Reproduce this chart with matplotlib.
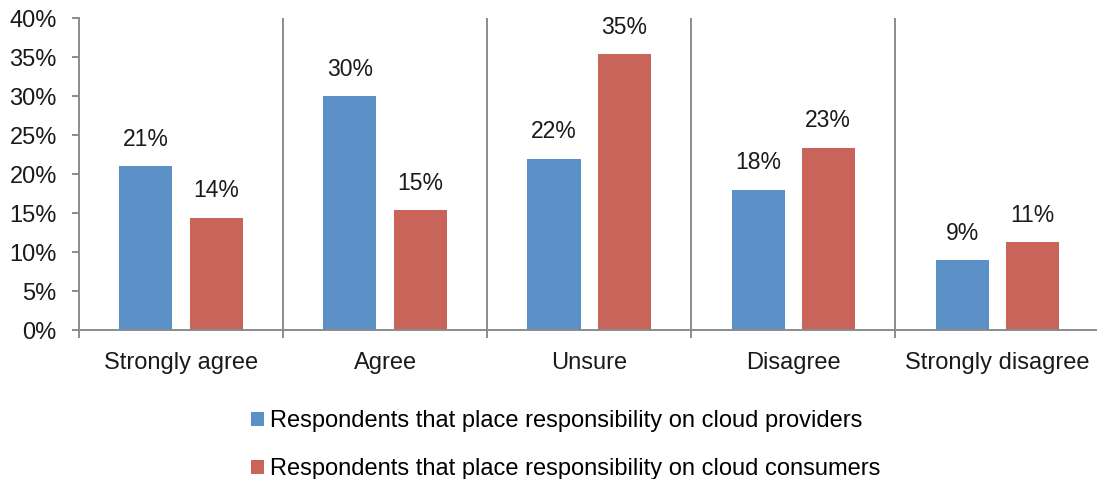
import matplotlib.pyplot as plt
import numpy as np

categorias = ['Strongly agree', 'Agree', 'Unsure', 'Disagree', 'Strongly disagree']
proveedores = [21.0, 30.0, 22.0, 18.0, 9.0]
consumidores = [14.4, 15.4, 35.4, 23.4, 11.3]
etiquetas_series = ['Respondents that place responsibility on cloud providers',
                    'Respondents that place responsibility on cloud consumers']
ticks_y = [0, 5, 10, 15, 20, 25, 30, 35, 40]

AZUL = '#5b91c6'
ROJO = '#c9645b'
GRIS = '#8c8c8c'
TEXTO = '#1a1a1a'

plt.rcParams['font.family'] = ['Liberation Sans', 'DejaVu Sans']

fig = plt.figure(figsize=(10.97, 4.79), dpi=100)
ax = fig.add_axes([0.072, 0.311, 0.93, 0.651])

x = np.arange(len(categorias))
ancho = 0.26
barras_p = ax.bar(x - 0.172, proveedores, ancho, color=AZUL, label=etiquetas_series[0])
barras_c = ax.bar(x + 0.172, consumidores, ancho, color=ROJO, label=etiquetas_series[1])

for barras, valores in ((barras_p, proveedores), (barras_c, consumidores)):
    for b, v in zip(barras, valores):
        ax.annotate('{:.0f}%'.format(v), (b.get_x() + b.get_width() / 2, v),
                    xytext=(0, 11), textcoords='offset points',
                    ha='center', va='bottom', fontsize=16.5, color=TEXTO)

# lineas separadoras entre categorias
ax.vlines(x[:-1] + 0.5, 0, 40, color=GRIS, lw=1.4)

ax.set_xlim(-0.5, len(categorias) - 0.5)
ax.set_ylim(0, 40)
ax.set_yticks(ticks_y)
ax.set_yticklabels(['{}%'.format(t) for t in ticks_y])
ax.set_xticks(x)
ax.set_xticklabels(categorias)
ax.set_xticks(np.arange(len(categorias) + 1) - 0.5, minor=True)

ax.tick_params(axis='x', which='major', length=0, pad=16, labelsize=17, labelcolor=TEXTO)
ax.tick_params(axis='x', which='minor', length=6, width=1.4, color=GRIS)
ax.tick_params(axis='y', length=5, width=1.4, color=GRIS, labelsize=17, labelcolor=TEXTO, pad=11)

for lado in ('top', 'right'):
    ax.spines[lado].set_visible(False)
for lado in ('left', 'bottom'):
    ax.spines[lado].set_color(GRIS)
    ax.spines[lado].set_linewidth(1.4)

fig.legend(loc='upper left', bbox_to_anchor=(0.229, 0.144), ncol=1, frameon=False,
           fontsize=17, handlelength=0.55, handleheight=0.55, handletextpad=0.25,
           labelspacing=1.1, borderpad=0, borderaxespad=0)

fig.savefig('out.png', dpi=100)
